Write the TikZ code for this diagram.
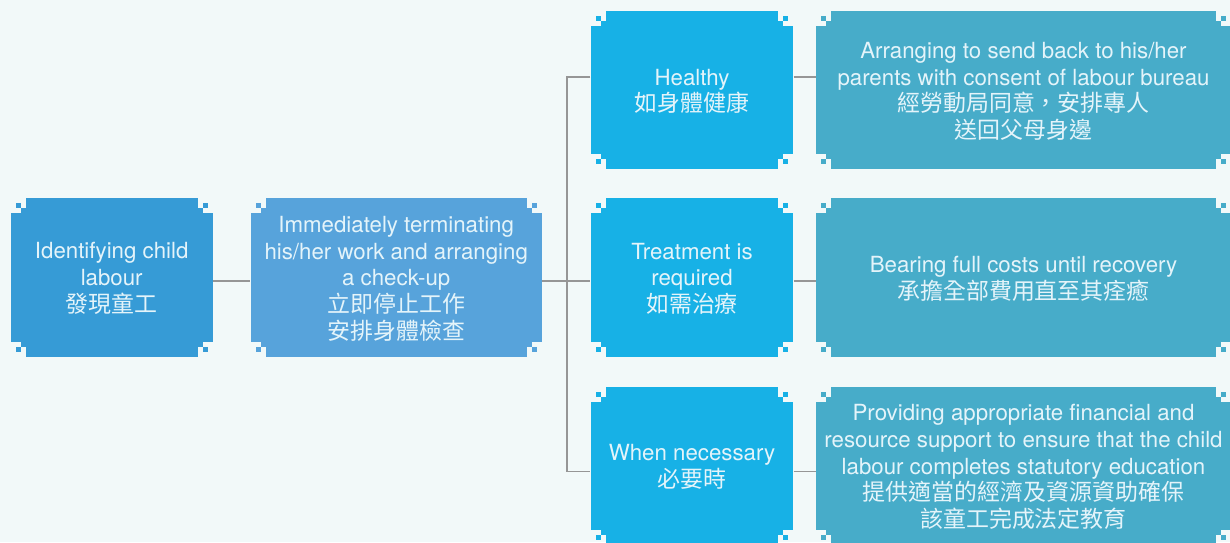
\documentclass[tikz,border=0pt]{standalone}
\usepackage{fontspec}
\setmainfont{TeX Gyre Heros}
\newfontfamily\cjk[Scale=1.03]{Noto Sans CJK TC}
\usepackage{tikz}
\definecolor{paper}{RGB}{242,249,249}
\definecolor{idblue}{RGB}{54,155,214}
\definecolor{stopblue}{RGB}{87,163,219}
\definecolor{casecyan}{RGB}{23,177,230}
\definecolor{acttea}{RGB}{71,172,201}
\definecolor{cardtext}{RGB}{228,244,250}
\definecolor{linkgray}{RGB}{150,150,150}
\def\pixbox[#1](#2,#3)(#4,#5){%
\fill[#1] ({#2+15},#3) rectangle ({#4-15},#5);
\fill[#1] (#2,{#3+15}) rectangle (#4,{#5-15});
\fill[#1] ({#2+10},{#3+10}) rectangle ({#4-10},{#5-10});
\fill[#1] ({#2+5},{#3+5}) rectangle ({#2+10},{#3+10});
\fill[#1] ({#4-10},{#3+5}) rectangle ({#4-5},{#3+10});
\fill[#1] ({#2+5},{#5-10}) rectangle ({#2+10},{#5-5});
\fill[#1] ({#4-10},{#5-10}) rectangle ({#4-5},{#5-5});}
\tikzset{
  card/.style={minimum height=119pt, inner sep=0pt, align=center, text=cardtext,
    font=\fontsize{16.7}{20}\selectfont},
  link/.style={draw=linkgray, line width=1.1pt}
}

\begin{document}
\begin{tikzpicture}[x=0.75pt, y=-0.75pt]
			%%%%% START %%%%%
			\useasboundingbox (0, 0) rectangle (1230, 542);
			\clip (0, 0) rectangle (1230, 542);
			\fill[paper] (0, 0) rectangle (1230, 542);
			
			\pixbox[idblue](10.7, 198)(212.7, 356.7);
			\pixbox[stopblue](250.7, 198)(541.7, 356.7);
			
			\pixbox[casecyan](590.7, 11)(793.3, 169.3);
			\pixbox[casecyan](590.7, 198)(793.3, 356.7);
			\pixbox[casecyan](590.7, 386.7)(793.3, 545.3);
			
			\pixbox[acttea](816, 11)(1231, 169.3);
			\pixbox[acttea](816, 198)(1231, 356.7);
			\pixbox[acttea](816, 386.7)(1231, 545.3);
			
			\node[card, minimum width=151.5pt] (spot) at (111.7, 278.5) {Identifying child\\labour\\{\cjk 發現童工}};
			\node[card, minimum width=218.3pt] (stop) at (396.2, 278.5) {Immediately terminating\\his/her work and arranging\\a check-up\\{\cjk 立即停止工作}\\{\cjk 安排身體檢查}};
			
			\node[card, minimum width=152pt] (healthy) at (692, 91.2) {Healthy\\{\cjk 如身體健康}};
			\node[card, minimum width=152pt] (treat) at (692, 278.5) {Treatment is\\required\\{\cjk 如需治療}};
			\node[card, minimum width=152pt] (needed) at (692, 467) {When necessary\\{\cjk 必要時}};
			
			\node[card, minimum width=311pt] (sendback) at (1023.5, 91.2) {Arranging to send back to his/her\\parents with consent of labour bureau\\{\cjk 經勞動局同意，安排專人}\\{\cjk 送回父母身邊}};
			\node[card, minimum width=311pt] (costs) at (1023.5, 278.5) {Bearing full costs until recovery\\{\cjk 承擔全部費用直至其痊癒}};
			\node[card, minimum width=311pt] (support) at (1023.5, 467) {Providing appropriate financial and\\resource support to ensure that the child\\labour completes statutory education\\{\cjk 提供適當的經濟及資源資助確保}\\{\cjk 該童工完成法定教育}};
			
			\coordinate (fork) at (567, 281);
			\draw[link] ([yshift=-1.9pt]spot.east) -- ([yshift=-1.9pt]stop.west);
			\draw[link] ([yshift=-1.9pt]stop.east) -- ([yshift=-1.9pt]treat.west);
			\draw[link] ([yshift=10.6pt]healthy.west) -| (fork) |- ([yshift=-3.5pt]needed.west);
			
			\draw[link] ([yshift=10.6pt]healthy.east) -- ([yshift=10.6pt]sendback.west);
			\draw[link] ([yshift=-1.9pt]treat.east) -- ([yshift=-1.9pt]costs.west);
			\draw[link] ([yshift=-3.5pt]needed.east) -- ([yshift=-3.5pt]support.west);
			%%%%% END %%%%%
\end{tikzpicture}
\end{document}
